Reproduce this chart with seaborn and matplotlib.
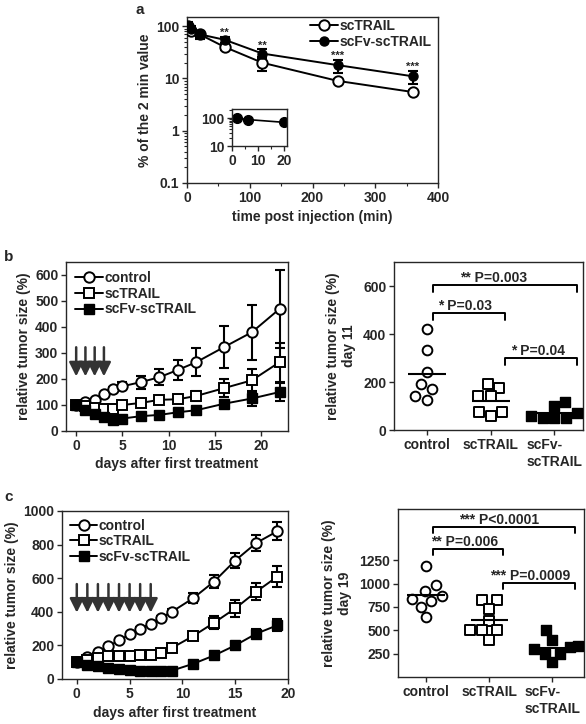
import numpy as np
import pandas as pd
import matplotlib
matplotlib.use("Agg")
import matplotlib.pyplot as plt
import matplotlib.ticker as mticker
import seaborn as sns

# ---- panel a: clearance (% of 2 min value) ----
time_a = [2, 6, 20, 60, 120, 240, 360]
sctrail_a = [100, 82, 70, 40, 20, 9, 5.5]
sctrail_a_err = [20, 12, 8, 5, 6, 0.8, 0.4]
scfv_a = [100, 88, 70, 55, 30, 18, 11]
scfv_a_err = [10, 12, 12, 8, 6, 5, 3]
stars_a = ["", "", "", "**", "**", "***", "***"]

# ---- panel b: tumor growth, 4 treatments ----
days_b = [0, 1, 2, 3, 4, 5, 7, 9, 11, 13, 16, 19, 22]
control_b = [100, 110, 118, 142, 162, 172, 188, 207, 235, 265, 323, 380, 470]
control_b_err = [5, 5, 6, 6, 8, 15, 25, 30, 40, 55, 80, 105, 150]
sctrail_b = [100, 95, 90, 85, 83, 100, 108, 120, 122, 135, 165, 195, 265]
sctrail_b_err = [5, 5, 5, 5, 5, 8, 10, 14, 15, 18, 35, 45, 75]
scfv_b = [100, 82, 65, 55, 43, 48, 57, 62, 72, 80, 105, 125, 150]
scfv_b_err = [4, 4, 4, 4, 4, 4, 5, 6, 8, 8, 15, 28, 35]
treat_b = [0, 1, 2, 3]

# day 11 single animals
groups = ["control", "scTRAIL", "scFv-scTRAIL"]
day11_control = [420, 335, 240, 190, 170, 140, 125]
day11_sctrail = [190, 175, 140, 140, 75, 60, 75]
day11_scfv = [115, 100, 70, 60, 50, 50, 50]

# ---- panel c: tumor growth, 8 treatments ----
days_c = [0, 1, 2, 3, 4, 5, 6, 7, 8, 9, 11, 13, 15, 17, 19]
control_c = [100, 130, 160, 195, 230, 265, 300, 330, 365, 400, 480, 580, 705, 810, 880]
control_c_err = [5, 6, 6, 8, 8, 8, 8, 10, 12, 15, 30, 40, 45, 50, 55]
sctrail_c = [100, 115, 125, 135, 135, 135, 140, 145, 155, 185, 255, 335, 420, 520, 610]
sctrail_c_err = [5, 5, 5, 6, 6, 6, 6, 8, 8, 10, 20, 40, 50, 50, 60]
scfv_c = [100, 85, 75, 65, 60, 55, 50, 45, 45, 50, 90, 140, 200, 270, 320]
scfv_c_err = [4, 4, 4, 4, 4, 4, 4, 4, 4, 5, 8, 10, 12, 25, 35]
treat_c = [0, 1, 2, 3, 4, 5, 6, 7]

# day 19 single animals
day19_control = [1190, 990, 920, 870, 840, 810, 750, 640]
day19_sctrail = [830, 830, 730, 600, 500, 500, 500, 400]
day19_scfv = [500, 400, 330, 320, 300, 250, 250, 160]

sns.set_theme(style="ticks")
plt.rcParams["font.family"] = ["Liberation Sans", "DejaVu Sans"]
plt.rcParams["font.weight"] = "bold"
plt.rcParams["axes.labelweight"] = "bold"
plt.rcParams["axes.linewidth"] = 1.0
plt.rcParams["xtick.major.width"] = 1.0
plt.rcParams["ytick.major.width"] = 1.0
plt.rcParams["xtick.major.size"] = 3.5
plt.rcParams["ytick.major.size"] = 3.5
plt.rcParams["xtick.major.pad"] = 2.5
plt.rcParams["ytick.major.pad"] = 2
plt.rcParams["xtick.labelsize"] = 10
plt.rcParams["ytick.labelsize"] = 10
plt.rcParams["axes.labelsize"] = 10

FS = 10
W, H = 586, 724
fig = plt.figure(figsize=(W / 100, H / 100), dpi=100)


def px_axes(left, top, right, bottom):
    return fig.add_axes([left / W, 1 - bottom / H, (right - left) / W, (bottom - top) / H])


open_circ = dict(marker="o", markerfacecolor="white", markeredgecolor="black", markeredgewidth=1.4)
open_sq = dict(marker="s", markerfacecolor="white", markeredgecolor="black", markeredgewidth=1.4)
fill_sq = dict(marker="s", markerfacecolor="black", markeredgecolor="black", markeredgewidth=1.0)
fill_circ = dict(marker="o", markerfacecolor="black", markeredgecolor="black", markeredgewidth=1.0)


def series(ax, x, y, err, label, style, ms=7.5):
    ax.errorbar(x, y, yerr=err, fmt="none", ecolor="black", elinewidth=1.5,
                capsize=3.5, capthick=1.5, zorder=2)
    sns.lineplot(x=x, y=y, ax=ax, color="black", linewidth=1.4, markersize=ms,
                 label=label, zorder=3, legend=False, **style)


def add_legend(ax, **kw):
    lines = [l for l in ax.get_lines() if not l.get_label().startswith("_")]
    ax.legend(handles=lines, frameon=False, fontsize=FS, handlelength=2.0,
              handletextpad=0.1, labelspacing=0.12, **kw)


# ================= panel a =================
ax = px_axes(187, 17, 438, 183)
series(ax, time_a, sctrail_a, sctrail_a_err, "scTRAIL", open_circ, ms=7.5)
series(ax, time_a, scfv_a, scfv_a_err, "scFv-scTRAIL", fill_circ, ms=6.5)
ax.set_yscale("log")
ax.set_ylim(0.1, 150)
ax.set_xlim(0, 400)
ax.set_xticks([0, 100, 200, 300, 400])
ax.xaxis.set_minor_locator(mticker.MultipleLocator(50))
ax.tick_params(which="minor", length=2, width=0.8)
ax.set_yticks([0.1, 1, 10, 100])
ax.yaxis.set_major_formatter(mticker.FixedFormatter(["0.1", "1", "10", "100"]))
ax.set_xlabel("time post injection (min)", labelpad=3)
ax.set_ylabel("% of the 2 min value", labelpad=3)
for t, v, e, s in zip(time_a, scfv_a, scfv_a_err, stars_a):
    if s:
        ax.annotate(s, xy=(t, v + e), xytext=(0, -1), textcoords="offset points",
                    ha="center", va="bottom", fontsize=8)
add_legend(ax, loc="upper right", borderaxespad=0.1, bbox_to_anchor=(1.0, 1.03))

# inset
axi = px_axes(232, 109, 287, 146)
ins_t = [t for t in time_a if t <= 20]
ins_v = scfv_a[:len(ins_t)]
ins_e = scfv_a_err[:len(ins_t)]
axi.errorbar(ins_t, ins_v, yerr=ins_e, fmt="none", ecolor="black", elinewidth=1.2, capsize=2.5)
sns.lineplot(x=ins_t, y=ins_v, ax=axi, color="black", linewidth=1.2, markersize=7, **fill_circ)
axi.set_yscale("log")
axi.set_ylim(10, 210)
axi.set_xlim(0, 21)
axi.set_yticks([10, 100])
axi.yaxis.set_major_formatter(mticker.FixedFormatter(["10", "100"]))
axi.set_xticks([0, 10, 20])
axi.xaxis.set_minor_locator(mticker.MultipleLocator(5))
axi.tick_params(which="minor", length=2, width=0.8)
axi.tick_params(labelsize=FS, pad=2)

# ================= panel b left =================
ax = px_axes(66, 262, 288, 431)
series(ax, days_b, control_b, control_b_err, "control", open_circ)
series(ax, days_b, sctrail_b, sctrail_b_err, "scTRAIL", open_sq)
series(ax, days_b, scfv_b, scfv_b_err, "scFv-scTRAIL", fill_sq)
for d in treat_b:
    ax.annotate("", xy=(d, 210), xytext=(d, 322),
                arrowprops=dict(arrowstyle="-|>,head_length=0.6,head_width=0.3",
                                color="#333333", lw=1.8, mutation_scale=14, shrinkA=0, shrinkB=0))
ax.set_xlim(-1.1, 22.9)
ax.set_ylim(0, 650)
ax.set_xticks([0, 5, 10, 15, 20])
ax.set_yticks([0, 100, 200, 300, 400, 500, 600])
ax.set_xlabel("days after first treatment", labelpad=3)
ax.set_ylabel("relative tumor size (%)", labelpad=3)
add_legend(ax, loc="upper left", borderaxespad=0.25)


def dots(ax, ctrl, sct, scfv, size):
    df = pd.DataFrame({
        "group": ["control"] * len(ctrl) + ["scTRAIL"] * len(sct) + ["scFv-scTRAIL"] * len(scfv),
        "value": ctrl + sct + scfv,
    })
    looks = {
        "control": dict(marker="o", color="white", edgecolor="black", linewidth=1.4),
        "scTRAIL": dict(marker="s", color="white", edgecolor="black", linewidth=1.4),
        "scFv-scTRAIL": dict(marker="s", color="black", edgecolor="black", linewidth=1.0),
    }
    for g in groups:
        sub = df[df["group"] == g]
        sns.swarmplot(data=sub, x="group", y="value", order=groups, ax=ax, size=size, **looks[g])
        m = sub["value"].mean()
        i = groups.index(g)
        ax.hlines(m, i - 0.3, i + 0.3, color="black", lw=1.5, zorder=5)
    ax.set_xticks([0, 1, 2])
    ax.set_xticklabels(["control", "scTRAIL", "scFv-\nscTRAIL"], multialignment="left")
    ax.set_xlabel("")


def bracket(ax, x1, x2, y, drop, text, tx):
    ax.plot([x1, x1, x2, x2], [y - drop, y, y, y - drop], color="black", lw=1.4)
    ax.text(tx, y, text, ha="center", va="bottom", fontsize=FS, fontweight="bold")


# ================= panel b right =================
ax = px_axes(394, 262, 583, 430)
dots(ax, day11_control, day11_sctrail, day11_scfv, 7)
ax.set_xlim(-0.52, 2.45)
ax.set_ylim(0, 700)
ax.set_yticks([0, 200, 400, 600])
ax.set_ylabel("relative tumor size (%)\nday 11", labelpad=5, multialignment="center")
bracket(ax, 0.1, 2.35, 605, 30, "** P=0.003", 1.05)
bracket(ax, 0.1, 1.22, 487, 30, "* P=0.03", 0.6)
bracket(ax, 1.22, 2.35, 300, 30, "* P=0.04", 1.75)

# ================= panel c left =================
ax = px_axes(62, 511, 288, 679)
series(ax, days_c, control_c, control_c_err, "control", open_circ)
series(ax, days_c, sctrail_c, sctrail_c_err, "scTRAIL", open_sq)
series(ax, days_c, scfv_c, scfv_c_err, "scFv-scTRAIL", fill_sq)
for d in treat_c:
    ax.annotate("", xy=(d, 395), xytext=(d, 565),
                arrowprops=dict(arrowstyle="-|>,head_length=0.6,head_width=0.3",
                                color="#333333", lw=1.8, mutation_scale=14, shrinkA=0, shrinkB=0))
ax.set_xlim(-1.4, 20)
ax.set_ylim(0, 1000)
ax.set_xticks([0, 5, 10, 15, 20])
ax.set_yticks([0, 200, 400, 600, 800, 1000])
ax.set_xlabel("days after first treatment", labelpad=3)
ax.set_ylabel("relative tumor size (%)", labelpad=3)
add_legend(ax, loc="upper left", borderaxespad=0.15)

# ================= panel c right =================
ax = px_axes(398, 509, 584, 677)
dots(ax, day19_control, day19_sctrail, day19_scfv, 7)
ax.set_xlim(-0.45, 2.5)
ax.set_ylim(0, 1800)
ax.set_yticks([250, 500, 750, 1000, 1250])
ax.set_ylabel("relative tumor size (%)\nday 19", labelpad=5, multialignment="center")
bracket(ax, 0.1, 2.35, 1610, 70, "*** P<0.0001", 1.15)
bracket(ax, 0.1, 1.22, 1375, 70, "** P=0.006", 0.6)
bracket(ax, 1.22, 2.35, 1010, 70, "*** P=0.0009", 1.65)

# panel letters
for letter, (px, py) in {"a": (135, 10), "b": (4, 257), "c": (4, 497)}.items():
    fig.text(px / W, 1 - py / H, letter, fontsize=11, fontweight="bold", va="center", ha="left")

fig.savefig("out.png", dpi=100)
